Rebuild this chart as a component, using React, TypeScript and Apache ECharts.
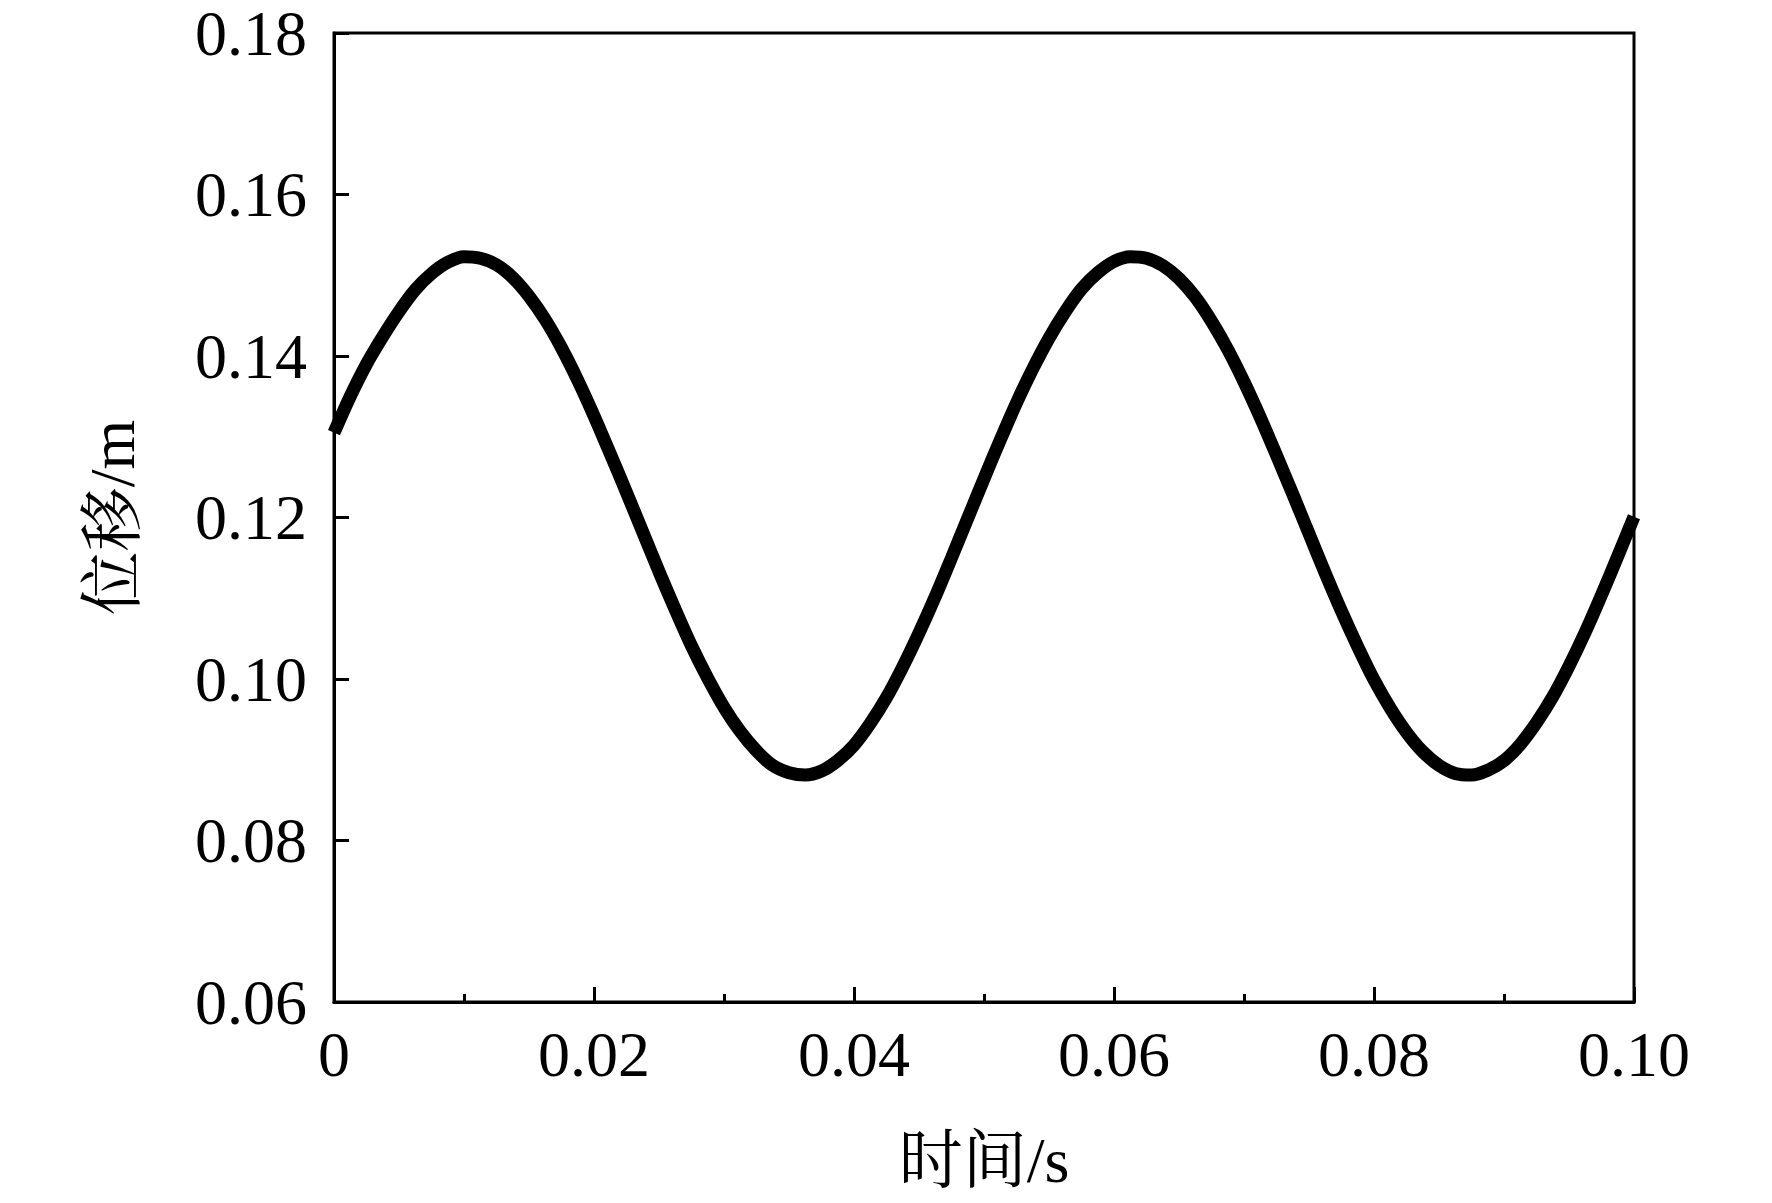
import React, { useEffect, useRef } from "react";
import * as echarts from "echarts";

const timeValues: number[] = [
  0, 0.00125, 0.0025, 0.00375, 0.005, 0.00625, 0.0075, 0.00875, 0.01, 0.01125,
  0.0125, 0.01375, 0.015, 0.01625, 0.0175, 0.01875, 0.02, 0.02125, 0.0225, 0.02375,
  0.025, 0.02625, 0.0275, 0.02875, 0.03, 0.03125, 0.0325, 0.03375, 0.035, 0.03625,
  0.0375, 0.03875, 0.04, 0.04125, 0.0425, 0.04375, 0.045, 0.04625, 0.0475, 0.04875,
  0.05, 0.05125, 0.0525, 0.05375, 0.055, 0.05625, 0.0575, 0.05875, 0.06, 0.06125,
  0.0625, 0.06375, 0.065, 0.06625, 0.0675, 0.06875, 0.07, 0.07125, 0.0725, 0.07375,
  0.075, 0.07625, 0.0775, 0.07875, 0.08, 0.08125, 0.0825, 0.08375, 0.085, 0.08625,
  0.0875, 0.08875, 0.09, 0.09125, 0.0925, 0.09375, 0.095, 0.09625, 0.0975, 0.09875,
  0.1,
];

const displacementValues: number[] = [
  0.1305, 0.135, 0.139, 0.1424, 0.1455, 0.1482, 0.1502, 0.1516, 0.1523, 0.1521,
  0.1513, 0.1497, 0.1474, 0.1445, 0.141, 0.137, 0.1326, 0.1279, 0.1231, 0.1182,
  0.1133, 0.1086, 0.1041, 0.1001, 0.0965, 0.0935, 0.0911, 0.0893, 0.0884, 0.0881,
  0.0886, 0.0899, 0.0918, 0.0945, 0.0977, 0.1015, 0.1057, 0.1102, 0.115, 0.1199,
  0.1248, 0.1296, 0.1342, 0.1384, 0.1422, 0.1455, 0.1483, 0.1503, 0.1517, 0.1523,
  0.1521, 0.1512, 0.1496, 0.1473, 0.1443, 0.1408, 0.1368, 0.1324, 0.1277, 0.1229,
  0.118, 0.1131, 0.1084, 0.104, 0.0999, 0.0964, 0.0934, 0.091, 0.0893, 0.0883,
  0.0881, 0.0887, 0.0899, 0.0919, 0.0946, 0.0978, 0.1016, 0.1058, 0.1104, 0.1152,
  0.1201,
];

const xAxisName = "时间/s";
const yAxisName = "位移/m";

const FONT = "'Liberation Serif', 'Times New Roman', 'Noto Serif CJK SC', 'Noto Sans CJK SC', serif";

export default function App() {
  const ref = useRef<HTMLDivElement>(null);

  useEffect(() => {
    if (!ref.current) return;
    const chart = echarts.init(ref.current, undefined, { renderer: "svg" });
    const data = timeValues.map((t, i) => [t, displacementValues[i]]);
    chart.setOption({
      animation: false,
      backgroundColor: "#ffffff",
      grid: {
        left: 334,
        top: 33,
        right: 138,
        bottom: 201,
        show: true,
        borderColor: "#000",
        borderWidth: 3,
        backgroundColor: "transparent",
      },
      xAxis: {
        type: "value",
        min: 0,
        max: 0.1,
        interval: 0.02,
        name: xAxisName,
        nameLocation: "middle",
        nameGap: 126,
        nameTextStyle: { fontFamily: FONT, fontSize: 64, color: "#000" },
        axisLine: { show: true, lineStyle: { color: "#000", width: 3 } },
        axisTick: { show: true, inside: true, length: 15, lineStyle: { color: "#000", width: 3 } },
        minorTick: { show: true, splitNumber: 2, length: 8, lineStyle: { color: "#000", width: 3 } },
        splitLine: { show: false },
        axisLabel: {
          fontFamily: FONT,
          fontSize: 64,
          lineHeight: 60,
          color: "#000",
          margin: 22,
          formatter: (v: number) => (v === 0 ? "0" : v.toFixed(2)),
        },
      },
      yAxis: {
        type: "value",
        min: 0.06,
        max: 0.18,
        interval: 0.02,
        name: yAxisName,
        nameLocation: "middle",
        nameGap: 190,
        nameTextStyle: { fontFamily: FONT, fontSize: 64, color: "#000" },
        axisLine: { show: true, lineStyle: { color: "#000", width: 3 } },
        axisTick: { show: true, inside: true, length: 15, lineStyle: { color: "#000", width: 3 } },
        splitLine: { show: false },
        axisLabel: {
          fontFamily: FONT,
          fontSize: 64,
          lineHeight: 48,
          color: "#000",
          margin: 27,
          formatter: (v: number) => v.toFixed(2),
        },
      },
      series: [
        {
          type: "line",
          data,
          smooth: 0.3,
          showSymbol: false,
          symbol: "none",
          lineStyle: { color: "#000", width: 13 },
          clip: true,
        },
      ],
    });
    return () => chart.dispose();
  }, []);

  return (
    <div
      ref={ref}
      style={{ position: "fixed", left: 0, top: 0, width: 1772, height: 1203, background: "#fff" }}
    />
  );
}
